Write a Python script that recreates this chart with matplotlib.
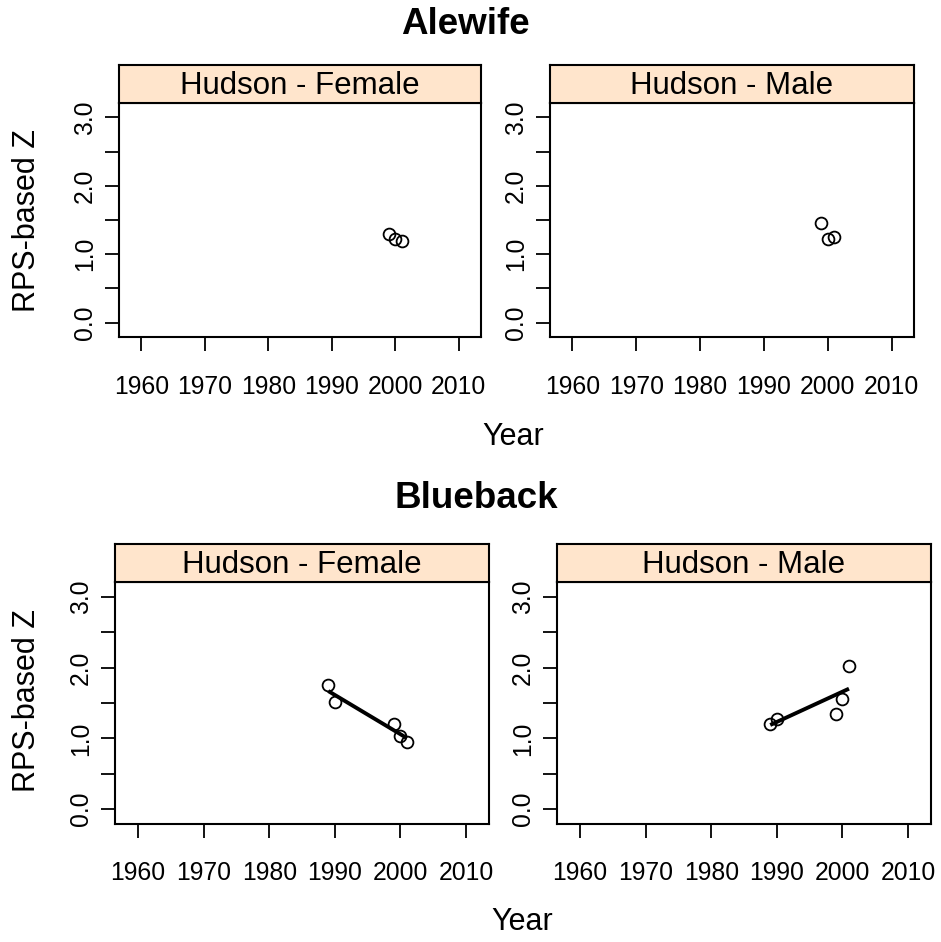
import numpy as np
import matplotlib
matplotlib.use("Agg")
import matplotlib.pyplot as plt
from matplotlib.ticker import FixedLocator

plt.rcParams.update({"font.family": ["Liberation Sans", "DejaVu Sans"]})

W, H = 941, 942
STRIP = "#ffe5cc"

# data
ale_f_year = [1999, 2000, 2001]
ale_f_z = [1.29, 1.22, 1.20]
ale_m_year = [1999, 2000, 2001]
ale_m_z = [1.46, 1.22, 1.25]
blu_year = [1989, 1990, 1999, 2000, 2001]
blu_f_z = [1.75, 1.51, 1.21, 1.04, 0.95]
blu_m_z = [1.20, 1.28, 1.34, 1.56, 2.02]

xticks = [1960, 1970, 1980, 1990, 2000, 2010]
yticks = [0.0, 1.0, 2.0, 3.0]
ytick_labels = ["0.0", "1.0", "2.0", "3.0"]


def box(x0, y0, x1, y1):
    # pixel box -> figure fraction rect
    return [x0 / W, 1 - y1 / H, (x1 - x0) / W, (y1 - y0) / H]


fig = plt.figure(figsize=(W / 100, H / 100), dpi=100)


def panel(x0, x1, ys, yp, yb, title, years, z, fit):
    ax = fig.add_axes(box(x0, yp, x1, yb))
    st = fig.add_axes(box(x0, ys, x1, yp))
    st.set_facecolor(STRIP)
    st.set_xticks([]); st.set_yticks([])
    for s in st.spines.values():
        s.set_linewidth(1.5)
    st.text(0.5, 0.45, title, ha="center", va="center", fontsize=22.5,
            transform=st.transAxes)

    ax.plot(years, z, "o", mfc="none", mec="black", ms=8.5, mew=1.3)
    if fit:
        b, a = np.polyfit(years, z, 1)
        xs = np.array([min(years), max(years)])
        ax.plot(xs, a + b * xs, color="black", lw=2.8, solid_capstyle="butt")
    ax.set_xlim(1956.5, 2013.5)
    ax.set_ylim(-0.21, 3.21)
    ax.set_xticks(xticks)
    ax.set_xticklabels([str(t) for t in xticks], fontsize=17.8)
    ax.yaxis.set_major_locator(FixedLocator(yticks))
    ax.set_yticklabels(ytick_labels, fontsize=17.8, rotation=90, va="center")
    ax.yaxis.set_minor_locator(FixedLocator([0.5, 1.5, 2.5]))
    ax.tick_params(which="both", direction="out", length=10, width=1.3, pad=6)
    ax.tick_params(axis="x", pad=17)
    for s in ax.spines.values():
        s.set_linewidth(1.5)
    return ax


# Alewife row
panel(119, 481, 65, 103, 337, "Hudson - Female", ale_f_year, ale_f_z, False)
panel(550, 914, 65, 103, 337, "Hudson - Male", ale_m_year, ale_m_z, False)
# Blueback row
panel(115, 489, 544, 582, 824, "Hudson - Female", blu_year, blu_f_z, True)
panel(557, 931, 544, 582, 824, "Hudson - Male", blu_year, blu_m_z, True)

fig.text(465 / W, 1 - 25 / H, "Alewife", ha="center", va="center",
         fontsize=26.5, fontweight="bold")
fig.text(476 / W, 1 - 499 / H, "Blueback", ha="center", va="center",
         fontsize=26.5, fontweight="bold")
fig.text(513 / W, 1 - 437 / H, "Year", ha="center", va="center", fontsize=22)
fig.text(522 / W, 1 - 922 / H, "Year", ha="center", va="center", fontsize=22)
fig.text(27 / W, 1 - 220 / H, "RPS-based Z", ha="center", va="center",
         fontsize=22, rotation=90)
fig.text(27 / W, 1 - 700 / H, "RPS-based Z", ha="center", va="center",
         fontsize=22, rotation=90)

fig.savefig("out.png", dpi=100)
